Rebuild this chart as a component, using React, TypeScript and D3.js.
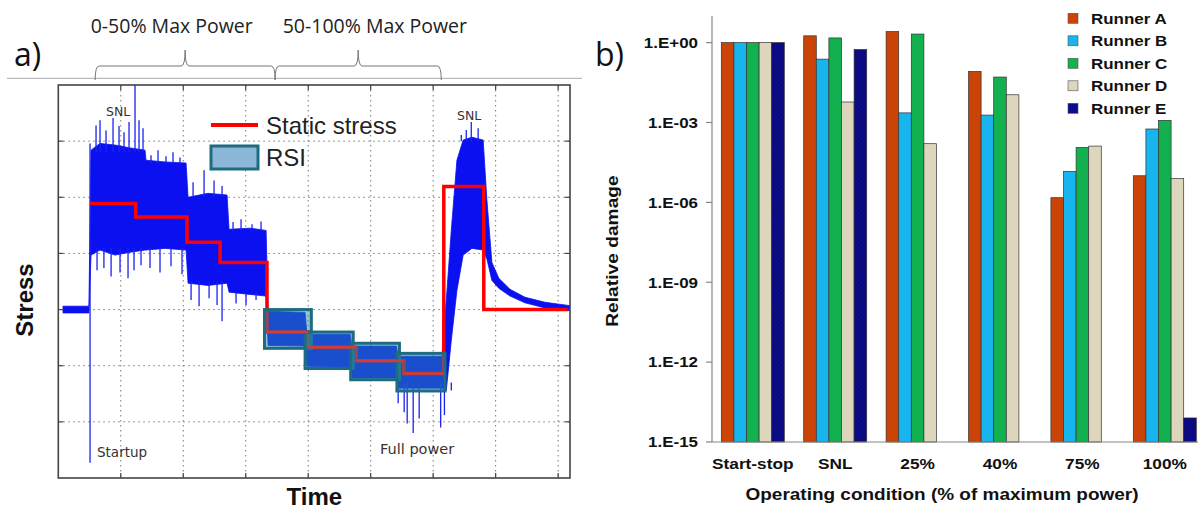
import * as d3 from 'd3'

// ---------- panel a: stress history ----------
// time in grid units, stress in grid units (0 = standstill level)
const timeTicks = [1, 2, 3, 4, 5, 6, 7, 8]
const stressTicks = [-2, -1, 0, 1, 2, 3]

// static stress steps [t, level] (step after)
const staticStress: [number, number][] = [
  [0.51, 1.89], [1.24, 1.65], [2.06, 1.2], [2.59, 0.84], [3.34, -0.4],
  [4.0, -0.67], [4.77, -0.91], [5.53, -1.14], [6.17, 2.19], [6.81, 0], [8.16, 0],
]

// RSI boxes [t0, t1, top, bottom]
const rsiBoxes: [number, number, number, number][] = [
  [3.3, 4.05, 0, -0.69],
  [3.95, 4.72, -0.4, -1.05],
  [4.68, 5.46, -0.6, -1.25],
  [5.42, 6.19, -0.78, -1.45],
]

// envelope of the measured signal [t, high, low]
const signalBand: [number, number, number][] = [
  [0.075, 0.06, -0.06], [0.49, 0.06, -0.06],
  [0.524, 2.84, 0.97], [0.668, 2.96, 1.06], [0.908, 2.93, 0.97], [1.148, 2.88, 1.02], [1.388, 2.84, 1.06],
  [1.404, 2.66, 1.06], [1.708, 2.63, 1.09], [2.045, 2.61, 1.06],
  [2.077, 2.0, 0.47], [2.397, 2.07, 0.43], [2.701, 2.04, 0.47],
  [2.733, 1.43, 0.31], [3.069, 1.45, 0.27], [3.326, 1.41, 0.24],
  [3.358, -0.03, -0.64], [3.95, -0.05, -0.65],
  [3.98, -0.44, -1.01], [4.67, -0.44, -1.03],
  [4.7, -0.65, -1.22], [5.41, -0.65, -1.22],
  [5.44, -0.83, -1.4], [6.14, -0.83, -1.4],
  [6.21, 0.17, -1.44], [6.29, 1.41, -0.55], [6.38, 2.66, 0.34], [6.48, 3.02, 0.97],
  [6.62, 3.07, 1.09], [6.8, 3.02, 1.06],
  [6.86, 1.95, 0.9], [6.94, 0.84, 0.52], [7.05, 0.56, 0.38], [7.23, 0.36, 0.24],
  [7.47, 0.22, 0.12], [7.79, 0.13, 0.03], [8.19, 0.07, -0.02],
]

// single peaks of the signal [t, from, to]
const signalSpikes: [number, number, number][] = [
  [0.508, -2.73, 2.96],
  [0.604, 2.8, 3.28], [0.668, 2.8, 3.37], [0.764, 2.8, 3.19], [0.876, 2.8, 3.41], [0.972, 2.8, 3.27],
  [1.052, 2.8, 3.16], [1.132, 2.8, 3.34], [1.228, 2.8, 4.0], [1.292, 2.8, 3.37], [1.356, 2.8, 3.23],
  [0.62, 1.1, 0.7], [0.73, 1.1, 0.74], [0.845, 1.1, 0.59], [0.988, 1.1, 0.66], [1.116, 1.1, 0.56],
  [1.212, 1.1, 0.7], [1.324, 1.1, 0.79],
  [1.484, 2.6, 2.75], [1.596, 2.6, 2.84], [1.724, 2.6, 2.73], [1.836, 2.6, 2.8], [1.948, 2.6, 2.71],
  [1.468, 1.1, 0.74], [1.628, 1.1, 0.66], [1.804, 1.1, 0.77], [1.98, 1.1, 0.63],
  [2.157, 2.0, 2.27], [2.333, 2.0, 2.48], [2.493, 2.0, 2.3], [2.621, 2.0, 2.2],
  [2.125, 0.5, 0.17], [2.253, 0.5, 0.06], [2.413, 0.5, 0.2], [2.541, 0.5, 0.08], [2.621, 0.5, -0.21],
  [2.797, 1.4, 1.56], [2.925, 1.4, 1.61], [3.101, 1.4, 1.52], [3.245, 1.4, 1.57],
  [2.845, 0.3, 0.11], [3.005, 0.3, 0.08], [3.165, 0.3, 0.17],
  [5.44, -1.3, -1.67], [5.536, -1.3, -1.83], [5.584, -1.3, -2.03], [5.68, -1.3, -2.2],
  [5.776, -1.3, -1.94], [6.12, -1.3, -2.1], [6.18, -1.3, -1.88], [6.29, -1.3, -1.44],
  [6.45, 3.0, 3.11], [6.53, 3.0, 3.2], [6.61, 3.0, 3.34], [6.72, 3.0, 3.23],
]

// operating ranges shown with braces above the plot [label, t0, tip, t1]
const powerRanges: [string, number, number, number][] = [
  ['0-50% Max Power', 0.59, 2.03, 3.47],
  ['50-100% Max Power', 3.47, 4.8, 6.13],
]

// ---------- panel b: relative damage ----------
const categories = ['Start-stop', 'SNL', '25%', '40%', '75%', '100%']
const runners = ['Runner A', 'Runner B', 'Runner C', 'Runner D', 'Runner E']
const runnerA = [1, 1.8, 2.6, 0.083, 1.5e-6, 1.0e-5]
const runnerB = [1, 0.24, 2.3e-3, 1.9e-3, 1.45e-5, 5.7e-4]
const runnerC = [1, 1.5, 2.1, 0.051, 1.15e-4, 1.2e-3]
const runnerD = [1, 5.9e-3, 1.6e-4, 0.011, 1.3e-4, 7.8e-6]
const runnerE = [1, 0.55, null, null, null, 8e-15]
const damageTickValues = [1, 1e-3, 1e-6, 1e-9, 1e-12, 1e-15]
const damageTickLabels = ['1.E+00', '1.E-03', '1.E-06', '1.E-09', '1.E-12', '1.E-15']

const runnerSeries = [runnerA, runnerB, runnerC, runnerD, runnerE]
const runnerColors = ['#c94406', '#17b4ee', '#12b04e', '#ddd5bc', '#0c0c8e']

const SX = 1.13
const boldFont = "'Liberation Sans', Arial, sans-serif"
const sansFont = "'Open Sans', sans-serif"

const BText = ({ x, y, size = 15, anchor = 'start', rotate = 0, children }: any) => (
  <text
    transform={`translate(${x},${y}) rotate(${rotate}) scale(${SX},1)`}
    textAnchor={anchor}
    fontFamily={boldFont}
    fontWeight='bold'
    fontSize={size}
    fill='#111'
  >
    {children}
  </text>
)

export default function App() {
  // SCALES PANEL A
  const xa = d3.scaleLinear().domain([0, 8.19]).range([58.3, 570])
  const ya = d3.scaleLinear().domain([-3, 4]).range([478, 85])

  const band = d3.area<[number, number, number]>()
    .x(d => xa(d[0]))
    .y0(d => ya(d[2]))
    .y1(d => ya(d[1]))

  const stepLine = d3.line<[number, number]>()
    .x(d => xa(d[0]))
    .y(d => ya(d[1]))
    .curve(d3.curveStepAfter)

  const boxSteps = staticStress.filter(d => d[0] >= 3.3 && d[0] < 6)

  const brace = (t0: number, tm: number, t1: number) => {
    const x0 = xa(t0), xm = xa(tm), x1 = xa(t1)
    return `M${x0},80 Q${x0},66 ${x0 + 4},66 L${xm - 4},66 Q${xm},66 ${xm},50 ` +
      `Q${xm},66 ${xm + 4},66 L${x1 - 4},66 Q${x1},66 ${x1},80`
  }

  // SCALES PANEL B
  const xb = d3.scaleBand().domain(categories).range([712, 712 + 6 * 82.4])
  const xr = d3.scaleBand().domain(runners).range([9.3, 9.3 + 63])
  const yb = d3.scaleLog().domain([1e-15, 10]).range([442, 16])

  return (
    <svg width={1198} height={511} style={{ position: 'absolute', left: 0, top: 0, background: '#fff' }}>
      <defs>
        <pattern id='hatch' width={3} height={3} patternUnits='userSpaceOnUse' patternTransform='rotate(45)'>
          <rect width={3} height={3} fill='#0c0c8e' />
          <line x1={0} y1={0} x2={0} y2={3} stroke='#05054a' strokeWidth={1} />
        </pattern>
        <clipPath id='plotA'>
          <rect x={58.3} y={85} width={511.7} height={393} />
        </clipPath>
      </defs>

      {/* ---------------- PANEL A ---------------- */}
      <text x={14} y={66} fontFamily={sansFont} fontSize={32} fill='#111'>a)</text>
      <line x1={7} x2={582} y1={78.3} y2={78.3} stroke='#aaa' strokeWidth={1} />
      {powerRanges.map((r, i) => (
        <g key={r[0]}>
          <path d={brace(r[1], r[2], r[3])} fill='none' stroke='#777' strokeWidth={1} />
          <text x={i === 0 ? 90.7 : 282.7} y={33} fontFamily={sansFont} fontSize={19.5} fill='#222'>{r[0]}</text>
        </g>
      ))}

      {/* grid */}
      {timeTicks.map(t => (
        <line key={'gx' + t} x1={xa(t)} x2={xa(t)} y1={85} y2={478} stroke='#777' strokeDasharray='1.5 3.5' />
      ))}
      {stressTicks.map(v => (
        <line key={'gy' + v} x1={58.3} x2={570} y1={ya(v)} y2={ya(v)} stroke='#777' strokeDasharray='1.5 3.5' />
      ))}

      <g clipPath='url(#plotA)'>
        {/* measured signal */}
        <path d={band(signalBand) || ''} fill='#0a10f0' stroke='#0a10f0' strokeWidth={0.8} />
        {signalSpikes.map((s, i) => (
          <line key={'s' + i} x1={xa(s[0])} x2={xa(s[0])} y1={ya(s[1])} y2={ya(s[2])} stroke='#1a22f0' strokeWidth={1.3} />
        ))}

        {/* static stress */}
        <path d={stepLine(staticStress) || ''} fill='none' stroke='#ff0000' strokeWidth={3.5} />

        {/* RSI boxes */}
        {rsiBoxes.map((b, i) => (
          <rect key={'b' + i} x={xa(b[0])} y={ya(b[2])} width={xa(b[1]) - xa(b[0])} height={ya(b[3]) - ya(b[2])}
            fill='rgba(40,140,170,0.5)' stroke='#1d6c80' strokeWidth={3} />
        ))}
        {boxSteps.map((d, i) => {
          const next = staticStress[staticStress.indexOf(d) + 1]
          return (
            <line key={'r' + i} x1={xa(d[0])} x2={xa(next[0])} y1={ya(d[1])} y2={ya(d[1])} stroke='#d83838' strokeWidth={2.5} />
          )
        })}
      </g>

      {/* frame and ticks */}
      <rect x={58.3} y={85} width={511.7} height={393} fill='none' stroke='#444' strokeWidth={1.6} />
      {timeTicks.map(t => (
        <g key={'tx' + t}>
          <line x1={xa(t)} x2={xa(t)} y1={478} y2={473} stroke='#444' strokeWidth={1.2} />
          <line x1={xa(t)} x2={xa(t)} y1={85} y2={90} stroke='#444' strokeWidth={1.2} />
        </g>
      ))}
      {stressTicks.map(v => (
        <g key={'ty' + v}>
          <line x1={58.3} x2={63.3} y1={ya(v)} y2={ya(v)} stroke='#444' strokeWidth={1.2} />
          <line x1={570} x2={565} y1={ya(v)} y2={ya(v)} stroke='#444' strokeWidth={1.2} />
        </g>
      ))}

      {/* annotations */}
      <g fontFamily="'DejaVu Sans', sans-serif" fill='#333'>
        <text x={106} y={116} fontSize={12.5}>SNL</text>
        <text x={457} y={119.5} fontSize={12.5}>SNL</text>
        <text x={97} y={457} fontSize={13.5}>Startup</text>
        <text x={380} y={454} fontSize={14.5}>Full power</text>
      </g>

      {/* legend */}
      <line x1={211} x2={258} y1={125} y2={125} stroke='#ff0000' strokeWidth={4} />
      <text x={266} y={133.5} fontFamily={boldFont} fontSize={24} fill='#222'>Static stress</text>
      <rect x={211} y={146} width={47} height={23} fill='#8db7d6' stroke='#1d6c80' strokeWidth={3} />
      <text x={266} y={165.5} fontFamily={boldFont} fontSize={24} fill='#222'>RSI</text>

      {/* axis titles */}
      <text transform='translate(33,300) rotate(-90)' textAnchor='middle' fontFamily={boldFont} fontWeight='bold' fontSize={24} fill='#111'>Stress</text>
      <text x={286.5} y={505} fontFamily={boldFont} fontWeight='bold' fontSize={24} fill='#111'>Time</text>

      {/* ---------------- PANEL B ---------------- */}
      <text x={595} y={66} fontFamily={sansFont} fontSize={32} fill='#111'>b)</text>

      {categories.map((c, ci) => (
        <g key={c}>
          {runnerSeries.map((series, ri) => {
            const v = series[ci]
            if (v == null) return null
            const x = (xb(c) as number) + (xr(runners[ri]) as number)
            return (
              <rect key={ri} x={x} y={yb(v)} width={xr.bandwidth()} height={442 - yb(v)}
                fill={ri === 4 ? 'url(#hatch)' : runnerColors[ri]} stroke='#333' strokeWidth={0.7} />
            )
          })}
          <BText x={(xb(c) as number) + 9.3 + 31.5} y={468.5} anchor='middle' size={15.3}>{c}</BText>
        </g>
      ))}

      {/* axes */}
      <line x1={712} x2={712} y1={16} y2={442} stroke='#888' strokeWidth={1.2} />
      <line x1={712} x2={1198} y1={442} y2={442} stroke='#888' strokeWidth={1.2} />
      {damageTickValues.map((v, i) => (
        <g key={'d' + i}>
          <line x1={706} x2={712} y1={yb(v)} y2={yb(v)} stroke='#888' strokeWidth={1.2} />
          <BText x={698} y={yb(v) + 5.3} anchor='end' size={15}>{damageTickLabels[i]}</BText>
        </g>
      ))}

      <BText x={618} y={251} anchor='middle' size={17} rotate={-90}>Relative damage</BText>
      <BText x={942} y={500} anchor='middle' size={16.8}>Operating condition (% of maximum power)</BText>

      {/* legend */}
      {runners.map((r, i) => (
        <g key={r}>
          <rect x={1068} y={13.3 + i * 22.5} width={10} height={10}
            fill={i === 4 ? '#0c0c8e' : runnerColors[i]} stroke='#555' strokeWidth={0.6} />
          <BText x={1091} y={23.8 + i * 22.5} size={15}>{r}</BText>
        </g>
      ))}
    </svg>
  )
}
